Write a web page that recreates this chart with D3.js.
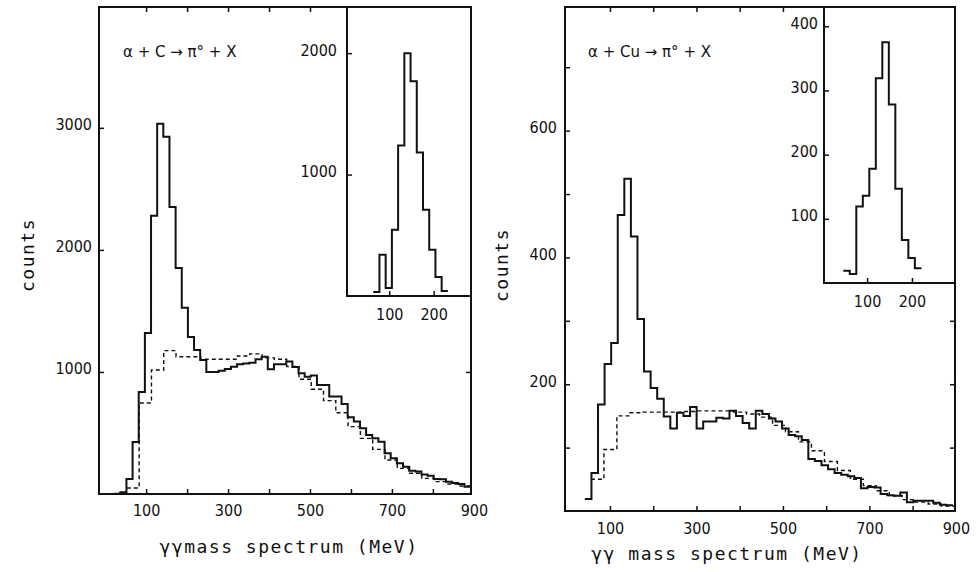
<!DOCTYPE html>
<html>
<head>
<meta charset="utf-8">
<script src="https://cdn.jsdelivr.net/npm/d3@7"></script>
<style>
  body { margin: 0; background: #fff; }
  svg text { fill: #111; }
  .num { font-family: "DejaVu Sans Condensed", "DejaVu Sans", sans-serif; font-stretch: condensed; font-size: 16px; }
  .lab { font-family: "DejaVu Sans Mono", monospace; font-size: 18px; letter-spacing: 1.5px; }
  .rx { font-family: "DejaVu Sans", sans-serif; font-size: 15px; }
</style>
</head>
<body>
<svg id="chart" width="977" height="572"></svg>
<script>
(function(){

// ---- alpha + C (left panel) ----
const cSolidStart = 22, cSolidWidth = 15;   // MeV
const cSolid = [3, 15, 123, 426, 836, 1320, 2279, 3033, 2926, 2352, 1852, 1525,
  1287, 1180, 1098, 1000, 1000, 1010, 1025, 1043, 1063, 1070,
  1076, 1104, 1125, 1022, 1063, 1063, 1085, 1040, 989, 961,
  970, 893, 893, 798, 798, 738, 628, 593, 538, 484,
  456, 429, 333, 293, 251, 224, 191, 185, 160, 150,
  123, 120, 101, 90, 82, 60];
const cDashStart = 53, cDashWidth = 30;
const cDash = [49, 746, 1016, 1175, 1125, 1125, 1104, 1104, 1104, 1131,
  1148, 1115, 1104, 1045, 940, 858, 765, 666, 552, 456,
  366, 279, 210, 170, 128, 101, 82, 66];
const cInsetStart = 64, cInsetWidth = 14;
const cInset = [33, 339, 66, 545, 1240, 2000, 1769, 1182, 711, 380, 157, 41];

// ---- alpha + Cu (right panel) ----
const cuSolidStart = 42, cuSolidWidth = 15.2;
const cuSolid = [19, 60, 168, 232, 265, 467, 524, 433, 303, 220,
  194, 177, 149, 130, 155, 150, 164, 130, 141, 141,
  147, 146, 158, 150, 139, 130, 158, 153, 146, 141,
  130, 120, 118, 112, 82, 79, 72, 66, 60, 57,
  55, 52, 36, 38, 37, 27, 25, 24, 29, 14,
  16, 16, 16, 13, 10, 9];
const cuDashStart = 56, cuDashWidth = 30;
const cuDash = [50, 97, 150, 155, 156, 156, 156, 157, 158, 158,
  158, 156, 153, 148, 135, 125, 109, 95, 78, 64,
  50, 40, 32, 24, 18, 14, 11, 8];
const cuInsetStart = 47, cuInsetWidth = 14.5;
const cuInset = [19, 14, 119, 136, 178, 319, 375, 278, 147, 67, 39, 23];

// ---- ticks ----
const massTicks = [100, 200, 300, 400, 500, 600, 700, 800];
const massLabels = [100, 300, 500, 700, 900];
const insetMassTicks = [100, 200];
const cCountTicks = [1000, 2000, 3000];
const cuCountTicks = [100, 200, 300, 400, 500, 600, 700];
const cuCountLabels = [200, 400, 600];
const cInsetCountTicks = [1000, 2000];
const cuInsetCountTicks = [100, 200, 300, 400];

const svg = d3.select("#chart");
const fmt = d3.format("d");

function steps(start, width, counts) {
  const pts = counts.map((c, i) => [start + i * width, c]);
  pts.push([start + counts.length * width, counts[counts.length - 1]]);
  return pts;
}

function tidy(g) {
  g.select(".domain").remove();
  g.selectAll(".tick line").attr("stroke", "#111").attr("stroke-width", 1.5);
  g.selectAll(".tick text").attr("class", "num").attr("fill", "#111");
}

function histo(g, x, y, pts, dashed) {
  const line = d3.line().x(d => x(d[0])).y(d => y(d[1])).curve(d3.curveStepAfter);
  g.append("path")
    .attr("d", line(pts))
    .attr("fill", "none")
    .attr("stroke", "#111")
    .attr("stroke-width", dashed ? 1.4 : 2)
    .attr("stroke-dasharray", dashed ? "4,3" : null);
}

function drawPanel(p) {
  const x = d3.scaleLinear().domain(p.xDomain).range([p.x0, p.x1]);
  const y = d3.scaleLinear().domain(p.yDomain).range([p.y1, p.y0]);
  const g = svg.append("g");

  histo(g, x, y, p.dash, true);
  histo(g, x, y, p.solid, false);

  // ticks on all four sides, pointing inward
  g.append("g").attr("transform", `translate(0,${p.y1})`)
    .call(d3.axisBottom(x).tickValues(massTicks).tickSize(-5).tickFormat("")).call(tidy);
  g.append("g").attr("transform", `translate(0,${p.y0})`)
    .call(d3.axisTop(x).tickValues(massTicks).tickSize(-5).tickFormat("")).call(tidy);
  g.append("g").attr("transform", `translate(${p.x0},0)`)
    .call(d3.axisLeft(y).tickValues(p.yTicks).tickSize(-5).tickFormat("")).call(tidy);
  g.append("g").attr("transform", `translate(${p.x1},0)`)
    .call(d3.axisRight(y).tickValues(p.yTicks).tickSize(-5).tickFormat("")).call(tidy);

  // labels
  g.append("g").attr("transform", `translate(0,${p.y1})`)
    .call(d3.axisBottom(x).tickValues(massLabels).tickSize(0).tickPadding(p.xPad).tickFormat(fmt)).call(tidy);
  const yl = g.append("g").attr("transform", `translate(${p.x0},0)`)
    .call(d3.axisLeft(y).tickValues(p.yLabels).tickSize(0).tickPadding(p.yPad).tickFormat(fmt)).call(tidy);
  yl.selectAll(".tick text").attr("dy", "0.12em");

  g.append("rect")
    .attr("x", p.x0).attr("y", p.y0)
    .attr("width", p.x1 - p.x0).attr("height", p.y1 - p.y0)
    .attr("fill", "none").attr("stroke", "#111").attr("stroke-width", 2);

  // inset
  const q = p.inset;
  const ix = d3.scaleLinear().domain(q.xDomain).range([q.x0, q.x1]);
  const iy = d3.scaleLinear().domain(q.yDomain).range([q.y1, q.y0]);
  g.append("rect")
    .attr("x", q.x0).attr("y", q.y0)
    .attr("width", q.x1 - q.x0).attr("height", q.y1 - q.y0)
    .attr("fill", "#fff").attr("stroke", "#111").attr("stroke-width", 2);
  histo(g, ix, iy, q.data, false);
  g.append("g").attr("transform", `translate(0,${q.y1})`)
    .call(d3.axisBottom(ix).tickValues(insetMassTicks).tickSize(-5).tickPadding(13).tickFormat(fmt)).call(tidy);
  const il = g.append("g").attr("transform", `translate(${q.x0},0)`)
    .call(d3.axisLeft(iy).tickValues(q.yTicks).tickSize(-5).tickPadding(q.yPad).tickFormat(fmt)).call(tidy);
  il.selectAll(".tick text").attr("dy", "0.12em");

  // texts
  g.append("text").attr("class", "rx")
    .attr("x", p.rx[0]).attr("y", p.rx[1]).text(p.reaction);
  g.append("text").attr("class", "lab")
    .attr("x", p.title[0]).attr("y", p.title[1])
    .attr("text-anchor", "middle").text(p.titleText);
  g.append("text").attr("class", "lab")
    .attr("transform", `translate(${p.counts[0]},${p.counts[1]}) rotate(-90)`)
    .attr("text-anchor", "middle").text("counts");
}

drawPanel({
  x0: 99, x1: 471, y0: 7, y1: 494,
  xDomain: [-15, 893], yDomain: [0, 3990],
  solid: steps(cSolidStart, cSolidWidth, cSolid),
  dash: steps(cDashStart, cDashWidth, cDash),
  yTicks: cCountTicks, yLabels: cCountTicks,
  xPad: 11, yPad: 7,
  inset: {
    x0: 347, x1: 471, y0: 7, y1: 296,
    xDomain: [5, 284], yDomain: [0, 2380],
    data: steps(cInsetStart, cInsetWidth, cInset),
    yTicks: cInsetCountTicks, yPad: 10
  },
  reaction: "α + C → π° + X", rx: [123, 57],
  titleText: "γγmass spectrum (MeV)", title: [289, 553],
  counts: [34, 255]
});

drawPanel({
  x0: 565, x1: 955, y0: 7, y1: 511,
  xDomain: [-4, 898], yDomain: [0, 795],
  solid: steps(cuSolidStart, cuSolidWidth, cuSolid),
  dash: steps(cuDashStart, cuDashWidth, cuDash),
  yTicks: cuCountTicks, yLabels: cuCountLabels,
  xPad: 12, yPad: 8,
  inset: {
    x0: 824, x1: 955, y0: 7, y1: 283,
    xDomain: [4, 296], yDomain: [0, 430],
    data: steps(cuInsetStart, cuInsetWidth, cuInset),
    yTicks: cuInsetCountTicks, yPad: 6
  },
  reaction: "α + Cu → π° + X", rx: [588, 57],
  titleText: "γγ mass spectrum (MeV)", title: [727, 560],
  counts: [508, 265]
});

})();
</script>
</body>
</html>
